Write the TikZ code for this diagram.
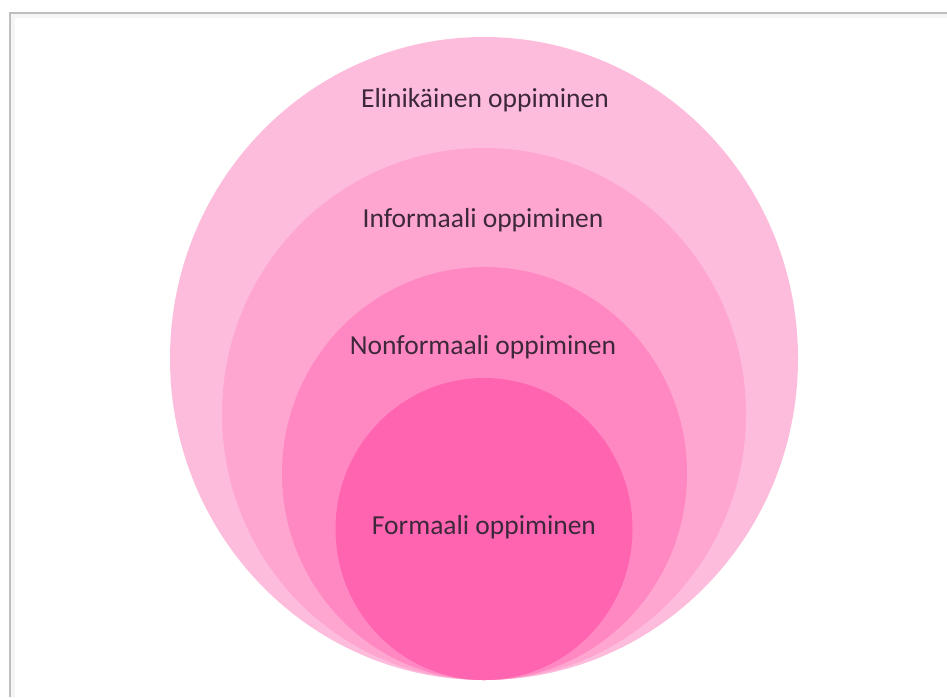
\documentclass[tikz,border=0pt]{standalone}
\usepackage{fontspec}
\setmainfont{Carlito}
\definecolor{ringA}{RGB}{253,188,220}
\definecolor{ringB}{RGB}{254,166,208}
\definecolor{ringC}{RGB}{255,136,194}
\definecolor{ringD}{RGB}{255,100,177}
\definecolor{labeltext}{RGB}{60,40,58}
\tikzstyle{ringlabel} = [text = labeltext, font = \fontsize{27.5}{30}\selectfont, inner sep = 0pt]
\tikzstyle{frameline} = [draw = black!25, line width = 1.4pt]

\begin{document}
\begin{tikzpicture}[x = 1pt, y = -1pt]
\useasboundingbox (0,0) rectangle (947,697);
\fill[white] (0,0) rectangle (947,697);
% frame of the picture
\draw [draw = black!4, line width = 4pt] (13,697) -- (13,16) -- (947,16);
\draw [frameline] (10,697) -- (10,13) -- (947,13);

% nested circles
\fill [ringA] (484,358.5) ellipse [x radius = 314, y radius = 321.5];
\fill [ringB] (484,414) ellipse [x radius = 262, y radius = 266];
\fill [ringC] (484.5,473.5) ellipse [x radius = 202.5, y radius = 206.5];
\fill [ringD] (484,529) ellipse [x radius = 148.5, y radius = 151];

\node (lifelong) [ringlabel] at (485,100) {Elinikäinen oppiminen};
\node (informal) [ringlabel] at (483,220) {Informaali oppiminen};
\node (nonformal) [ringlabel] at (483,347) {Nonformaali oppiminen};
\node (formal) [ringlabel] at (484,527) {Formaali oppiminen};
\end{tikzpicture}
\end{document}
